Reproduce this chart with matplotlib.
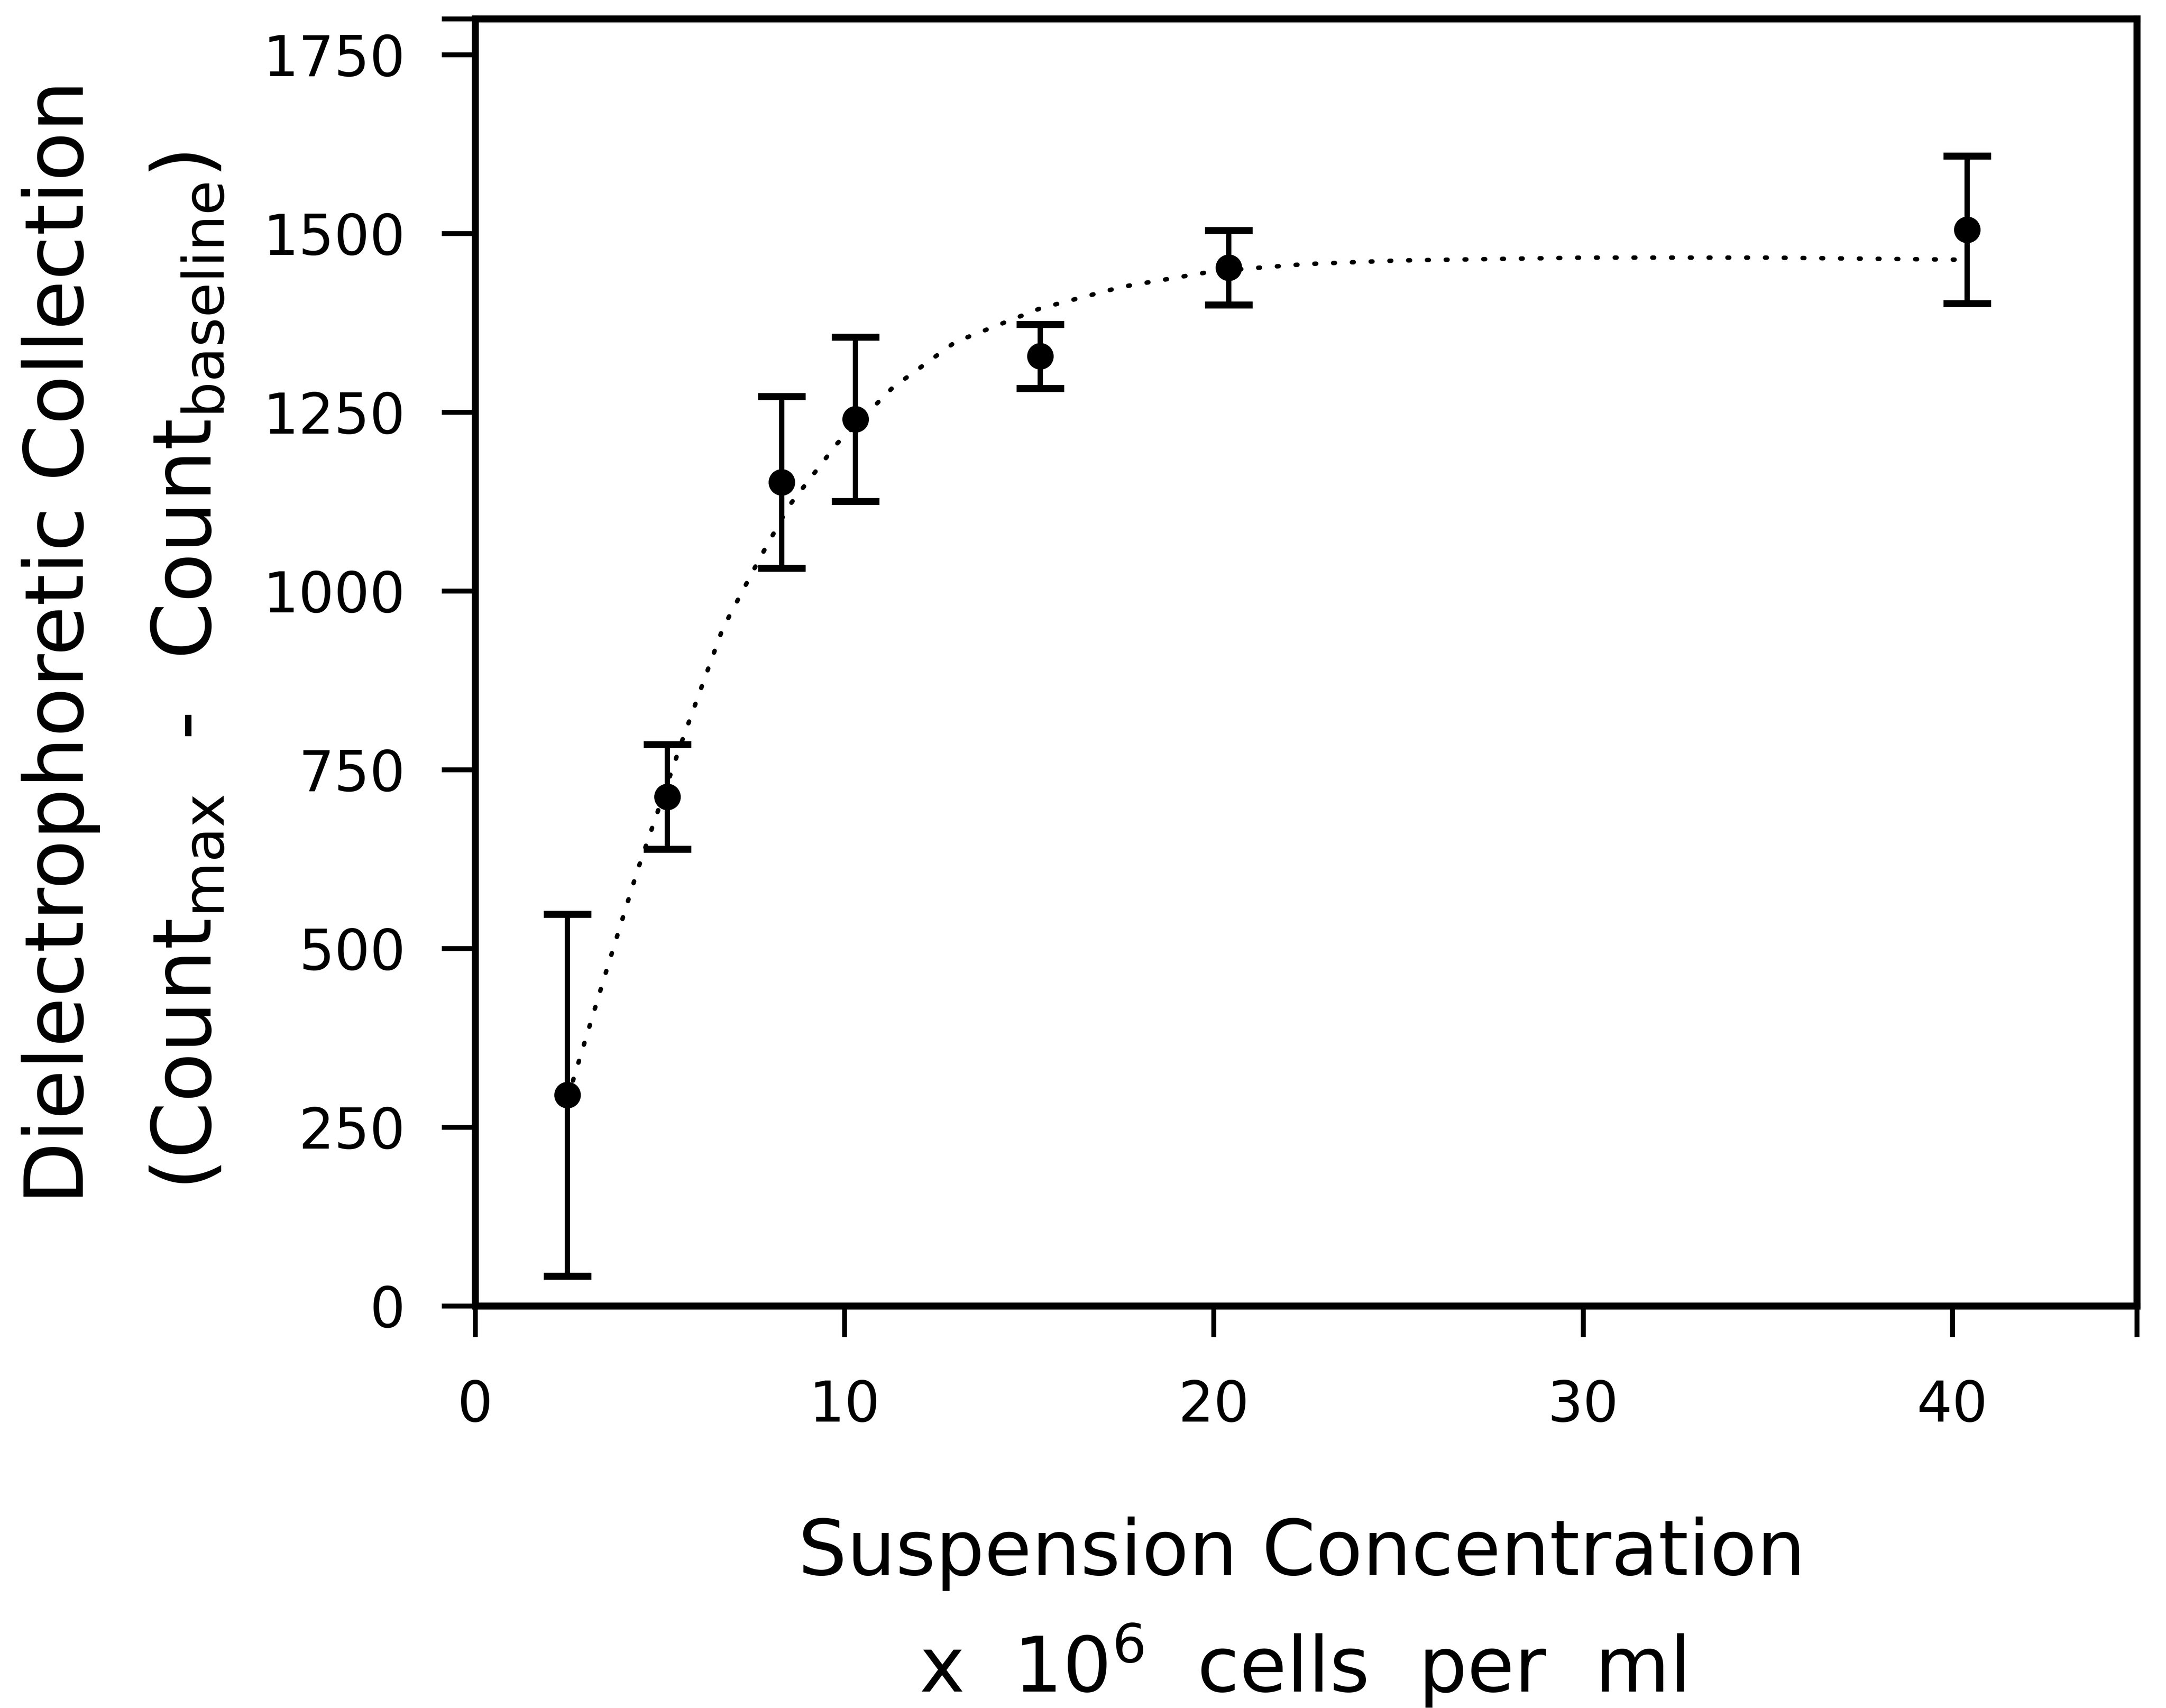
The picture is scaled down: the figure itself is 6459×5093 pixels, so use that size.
import matplotlib
matplotlib.use("Agg")
import matplotlib.pyplot as plt

# Measured points (x 10^6 cells per ml) and collection counts
conc = [2.5, 5.2, 8.3, 10.3, 15.3, 20.4, 40.4]
collection = [295, 712, 1152, 1240, 1328, 1452, 1505]
collection_err = [253, 73, 120, 115, 45, 52, 103]

# Dotted fitted curve
curve_x = [2.5, 3.5, 4.4, 5.6, 6.7, 7.7, 8.5, 9.8, 11.3, 13.0, 15.3, 17.5, 20.0, 22.5, 25.0, 30.0, 35.0, 40.4]
curve_y = [290, 460, 610, 790, 947, 1045, 1119, 1206, 1284, 1348, 1395, 1425, 1447, 1457, 1462, 1466, 1466, 1463]

xticks = [0, 10, 20, 30, 40, 45]
xtick_labels = ["0", "10", "20", "30", "40", ""]
yticks = [0, 250, 500, 750, 1000, 1250, 1500, 1750, 1800]
ytick_labels = ["0", "250", "500", "750", "1000", "1250", "1500", "1750", ""]

plt.rcParams['font.family'] = ['DejaVu Sans']
plt.rcParams['mathtext.fontset'] = 'dejavusans'

fig = plt.figure(figsize=(6459/300, 5093/300), dpi=300)
ax = fig.add_axes([0.2194, 0.2354, 0.9866-0.2194, 0.989-0.2354])

ax.plot(curve_x, curve_y, color='black', lw=3.2, linestyle=(0, (0.4, 3.8)),
        dash_capstyle='round')
ax.errorbar(conc, collection, yerr=collection_err, fmt='o', color='black',
            ms=18, elinewidth=3.8, capsize=17, capthick=5)

ax.set_xlim(0, 45)
ax.set_ylim(0, 1800)
ax.set_xticks(xticks)
ax.set_xticklabels(xtick_labels, fontsize=40)
ax.set_yticks(yticks)
ax.set_yticklabels(ytick_labels, fontsize=40)
ax.tick_params(axis='x', direction='out', length=22, width=3.5, pad=30)
ax.tick_params(axis='y', direction='out', length=24, width=3.5, pad=26)
for s in ax.spines.values():
    s.set_linewidth(5)

fig.text(0.028, 0.624, "Dielectrophoretic Collection", rotation=90,
         ha='center', va='center', fontsize=58)
fig.text(0.087, 0.607,
         r"(Count$_{\mathregular{max}}$  -  Count$_{\mathregular{baseline}}$)",
         rotation=90, ha='center', va='center', fontsize=58)
fig.text(0.601, 0.078, "Suspension Concentration", ha='center',
         va='baseline', fontsize=55)
fig.text(0.601, 0.0095, r"x  10$^{\mathregular{6}}$  cells  per  ml", ha='center',
         va='baseline', fontsize=55)

fig.savefig("out.png", dpi=300)
